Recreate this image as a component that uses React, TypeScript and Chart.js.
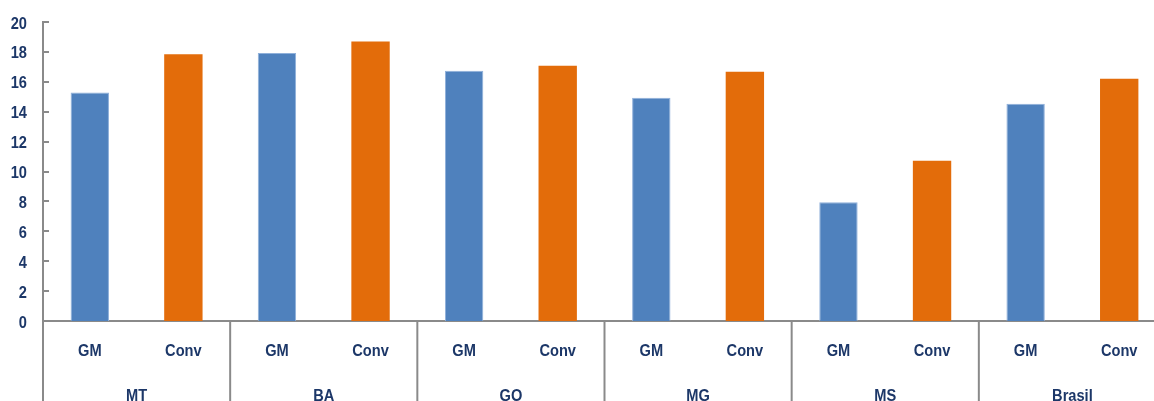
import React, { useEffect, useRef } from "react";
import { Chart, registerables } from "chart.js";

Chart.register(...registerables);

const groups = ["MT", "BA", "GO", "MG", "MS", "Brasil"];
const subLabels = ["GM", "Conv"];
const gmValues = [15.29, 17.93, 16.74, 14.94, 7.95, 14.53];
const convValues = [17.84, 18.69, 17.08, 16.68, 10.72, 16.21];
const yTicks = [0, 2, 4, 6, 8, 10, 12, 14, 16, 18, 20];

const BLUE = "#4f81bd";
const ORANGE = "#e36c0a";
const GRAY = "#8a8a8a";
const NAVY = "#1c3768";
const FONT = "bold 17px 'Liberation Sans', Arial, sans-serif";
const SX = 0.86;

export default function App() {
  const ref = useRef<HTMLCanvasElement | null>(null);

  useEffect(() => {
    document.body.style.margin = "0";
    const labels: string[] = [];
    const values: number[] = [];
    const colors: string[] = [];
    const borders: string[] = [];
    const bw: number[] = [];
    groups.forEach((g, i) => {
      labels.push(g + " " + subLabels[0]);
      values.push(gmValues[i]);
      colors.push(BLUE);
      borders.push("#8fb0da");
      bw.push(1);
      labels.push(g + " " + subLabels[1]);
      values.push(convValues[i]);
      colors.push(ORANGE);
      borders.push(ORANGE);
      bw.push(0);
    });

    const drawText = (ctx: any, s: string, x: number, y: number, align: string) => {
      ctx.save();
      ctx.translate(x, y);
      ctx.scale(SX, 1);
      ctx.textAlign = align;
      ctx.fillText(s, 0, 0);
      ctx.restore();
    };

    const multiLevel = {
      id: "multiLevel",
      afterDraw(chart: any) {
        const ctx = chart.ctx;
        const area = chart.chartArea;
        const xs = chart.scales.x;
        const ys = chart.scales.y;
        const h = chart.height;
        ctx.save();
        ctx.strokeStyle = GRAY;
        ctx.lineWidth = 2;
        // inward y ticks
        yTicks.forEach((t) => {
          const py = Math.round(ys.getPixelForValue(t));
          ctx.beginPath();
          ctx.moveTo(area.left, py);
          ctx.lineTo(area.left + 6, py);
          ctx.stroke();
        });
        const w = (area.right - area.left) / labels.length;
        // separators
        for (let i = 0; i <= groups.length; i++) {
          const px = area.left + i * 2 * w;
          ctx.beginPath();
          ctx.moveTo(px, area.bottom);
          ctx.lineTo(px, h);
          ctx.stroke();
        }
        ctx.fillStyle = NAVY;
        ctx.font = FONT;
        ctx.textBaseline = "alphabetic";
        yTicks.forEach((t) => {
          const py = ys.getPixelForValue(t);
          drawText(ctx, String(t), 27, py + 6.5, "right");
        });
        labels.forEach((_, i) => {
          const px = xs.getPixelForValue(i);
          drawText(ctx, subLabels[i % 2], px, 356, "center");
        });
        groups.forEach((g, i) => {
          const px = area.left + (i * 2 + 1) * w;
          drawText(ctx, g, px, 401, "center");
        });
        ctx.restore();
      },
    };

    const chart = new Chart(ref.current as HTMLCanvasElement, {
      type: "bar",
      data: {
        labels,
        datasets: [
          {
            data: values,
            backgroundColor: colors,
            borderColor: borders,
            borderWidth: bw,
            categoryPercentage: 1,
            barPercentage: 0.41,
          },
        ],
      },
      options: {
        animation: false,
        responsive: false,
        maintainAspectRatio: false,
        layout: { padding: { top: 22, right: 0, bottom: 0, left: 0 } },
        plugins: { legend: { display: false }, tooltip: { enabled: false } },
        scales: {
          x: {
            grid: { display: false, drawTicks: false },
            ticks: { display: false },
            border: { display: true, color: GRAY, width: 2 },
            afterFit: (s: any) => {
              s.height = 80;
            },
          },
          y: {
            min: 0,
            max: 20,
            grid: { display: false, drawTicks: false },
            border: { display: true, color: GRAY, width: 2 },
            ticks: { display: false, stepSize: 2 },
            afterFit: (s: any) => {
              s.width = 43;
            },
          },
        },
      },
      plugins: [multiLevel],
    });
    return () => chart.destroy();
  }, []);

  return (
    <div style={{ position: "absolute", left: 0, top: 0, width: 1154, height: 401, overflow: "hidden", background: "#fff" }}>
      <canvas ref={ref} width={1166} height={401} style={{ display: "block", width: 1166, height: 401 }} />
    </div>
  );
}
